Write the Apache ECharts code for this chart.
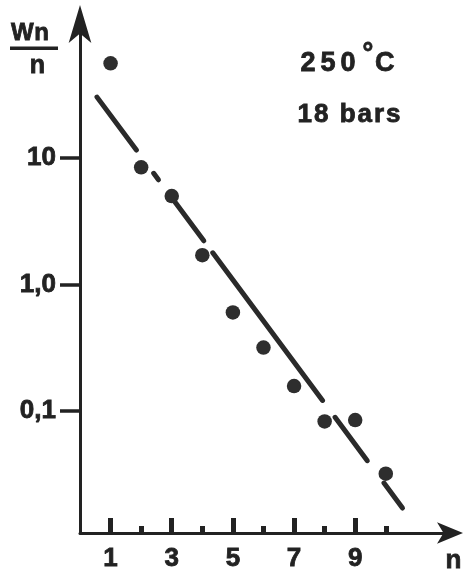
<!DOCTYPE html>
<html>
<head>
<meta charset="utf-8">
<script src="https://cdn.jsdelivr.net/npm/echarts@6/dist/echarts.min.js"></script>
<style>
html,body{margin:0;padding:0;background:#fff;}
#chart{width:464px;height:573px;}
</style>
</head>
<body>
<div id="chart"></div>
<script>
// ---- data ----
const nValues = [1, 2, 3, 4, 5, 6, 7, 8, 9, 10];
const wnValues = [56.1, 8.44, 5.01, 1.71, 0.603, 0.318, 0.158, 0.083, 0.085, 0.0321];
const fitN = [0.556, 10.65];
const fitW = [30.3, 0.0159];
const xMajorTicks = [1, 3, 5, 7, 9];
const xMinorTicks = [2, 4, 6, 8, 10];
const yTickValues = [0.1, 1, 10];
const yTickLabels = ['0,1', '1,0', '10'];

const INK = '#222222';
const FONT = '"Liberation Sans", Arial, Helvetica, sans-serif';
const THICK = 0.8;

const ctx = document.createElement('canvas').getContext('2d');
function spaced(str, left, top, size, spacing) {
  ctx.font = 'bold ' + size + 'px ' + FONT;
  const els = [];
  let x = left;
  for (const ch of str) {
    els.push({
      type: 'text', x: x, y: top, silent: true,
      style: { text: ch, font: 'bold ' + size + 'px ' + FONT, fill: INK, align: 'left', verticalAlign: 'top',
        stroke: INK, lineWidth: THICK }
    });
    x += ctx.measureText(ch).width + spacing;
  }
  return els;
}

const chart = echarts.init(document.getElementById('chart'), null, { renderer: 'canvas' });

const scatterData = nValues.map((n, i) => [n, wnValues[i]]);
const fitData = fitN.map((n, i) => [n, fitW[i]]);

const graphics = []
  .concat(spaced('250', 300.5, 49.8, 27, 5))
  .concat(spaced('°', 362.5, 41.5, 27, 0))
  .concat(spaced('C', 375, 49.8, 27, 0))
  .concat(spaced('18 bars', 297.5, 101.6, 26, 2))
  .concat(spaced('Wn', 11, 21, 24, 0.5))
  .concat([
    { type: 'rect', shape: { x: 10, y: 46.5, width: 48, height: 3.5 }, style: { fill: INK }, silent: true },
    { type: 'text', x: 37.5, y: 53.5, silent: true,
      style: { text: 'n', font: 'bold 25px ' + FONT, fill: INK, align: 'center', verticalAlign: 'top', stroke: INK, lineWidth: THICK } },
    { type: 'text', x: 453.5, y: 548, silent: true,
      style: { text: 'n', font: 'bold 26px ' + FONT, fill: INK, align: 'center', verticalAlign: 'top', stroke: INK, lineWidth: THICK } }
  ]);

const labelCommon = {
  fontSize: 26, fontWeight: 'bold', fontFamily: FONT, color: INK,
  textBorderColor: INK, textBorderWidth: THICK
};

const option = {
  animation: false,
  backgroundColor: '#ffffff',
  grid: { left: 80, right: 14, top: 24, bottom: 40 },
  xAxis: [
    {
      type: 'value', min: 0, max: 12.1, position: 'bottom',
      axisLine: { show: true, symbol: ['none', 'arrow'], symbolSize: [16, 26], symbolOffset: [0, 13],
        lineStyle: { color: INK, width: 3 } },
      axisTick: { show: true, inside: true, length: 15, customValues: xMajorTicks,
        lineStyle: { color: INK, width: 5 } },
      axisLabel: Object.assign({ show: true, customValues: xMajorTicks, margin: 13 }, labelCommon),
      splitLine: { show: false }
    },
    {
      type: 'value', min: 0, max: 12.1, position: 'bottom', offset: 0,
      axisLine: { show: false },
      axisTick: { show: true, inside: true, length: 7, customValues: xMinorTicks,
        lineStyle: { color: INK, width: 5 } },
      axisLabel: { show: false },
      splitLine: { show: false }
    }
  ],
  yAxis: {
    type: 'log', logBase: 10, min: 0.0109, max: 114.6,
    axisLine: { show: true, symbol: ['none', 'arrow'], symbolSize: [17, 38], symbolOffset: [0, 19],
      lineStyle: { color: INK, width: 3 } },
    axisTick: { show: true, inside: false, length: 20, customValues: yTickValues,
      lineStyle: { color: INK, width: 3.5 } },
    axisLabel: Object.assign({
      show: true, customValues: yTickValues, margin: 24,
      formatter: function (v) {
        let best = 0, bd = Infinity;
        yTickValues.forEach((t, i) => { const d = Math.abs(Math.log10(v) - Math.log10(t)); if (d < bd) { bd = d; best = i; } });
        return yTickLabels[best];
      }
    }, labelCommon),
    splitLine: { show: false }
  },
  series: [
    {
      type: 'line', data: fitData, showSymbol: false, symbol: 'none',
      lineStyle: { color: '#2a2a2a', width: 5, cap: 'round',
        type: [66, 29, 8, 28, 48, 15, 184, 21, 54, 28, 31, 20] },
      z: 2
    },
    {
      type: 'scatter', data: scatterData, symbolSize: 14.5,
      itemStyle: { color: '#2e2e2e', opacity: 1 },
      z: 3
    }
  ],
  graphic: graphics
};
chart.setOption(option);
</script>
</body>
</html>
